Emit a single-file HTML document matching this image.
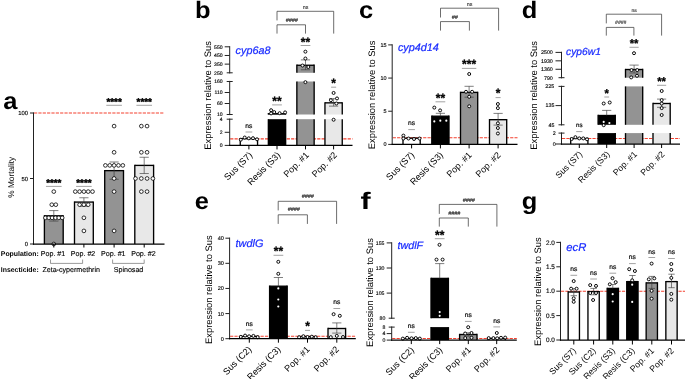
<!DOCTYPE html>
<html><head><meta charset="utf-8"><title>Figure</title>
<style>
html,body{margin:0;padding:0;background:#fff;}
body{width:685px;height:379px;overflow:hidden;}
svg{display:block;font-family:"Liberation Sans",sans-serif;text-rendering:geometricPrecision;will-change:transform;}
</style></head><body>
<svg width="685" height="379" viewBox="0 0 685 379">
<rect width="685" height="379" fill="#fff"/>
<text transform="translate(3.2 108.6) scale(1.07 1)" font-size="23.8" font-weight="bold">a</text>
<rect x="44.4" y="215.84" width="18.8" height="28.16" fill="#939393"/>
<line x1="44.4" y1="215.16" x2="44.4" y2="244" stroke="#000" stroke-width="1.35"/>
<line x1="63.2" y1="215.16" x2="63.2" y2="244" stroke="#000" stroke-width="1.35"/>
<line x1="44.4" y1="215.84" x2="63.2" y2="215.84" stroke="#000" stroke-width="1.35"/>
<line x1="53.8" y1="210.59" x2="53.8" y2="221.07" stroke="#3a3a3a" stroke-width="0.65"/>
<line x1="49.2" y1="210.59" x2="58.4" y2="210.59" stroke="#3a3a3a" stroke-width="0.65"/>
<line x1="49.2" y1="221.07" x2="58.4" y2="221.07" stroke="#3a3a3a" stroke-width="0.65"/>
<circle cx="53.8" cy="244" r="1.85" fill="#fff" stroke="#000" stroke-width="0.8"/>
<circle cx="45.4" cy="217.8" r="1.85" fill="#fff" stroke="#000" stroke-width="0.8"/>
<circle cx="48.8" cy="217.8" r="1.85" fill="#fff" stroke="#000" stroke-width="0.8"/>
<circle cx="52.1" cy="217.8" r="1.85" fill="#fff" stroke="#000" stroke-width="0.8"/>
<circle cx="55.5" cy="217.8" r="1.85" fill="#fff" stroke="#000" stroke-width="0.8"/>
<circle cx="58.8" cy="217.8" r="1.85" fill="#fff" stroke="#000" stroke-width="0.8"/>
<circle cx="62.2" cy="217.8" r="1.85" fill="#fff" stroke="#000" stroke-width="0.8"/>
<circle cx="51.8" cy="204.7" r="1.85" fill="#fff" stroke="#000" stroke-width="0.8"/>
<circle cx="55.8" cy="204.7" r="1.85" fill="#fff" stroke="#000" stroke-width="0.8"/>
<circle cx="53.8" cy="191.6" r="1.85" fill="#fff" stroke="#000" stroke-width="0.8"/>
<rect x="74.5" y="202.08" width="18.8" height="41.92" fill="#e8e8e8"/>
<line x1="74.5" y1="201.4" x2="74.5" y2="244" stroke="#000" stroke-width="1.35"/>
<line x1="93.3" y1="201.4" x2="93.3" y2="244" stroke="#000" stroke-width="1.35"/>
<line x1="74.5" y1="202.08" x2="93.3" y2="202.08" stroke="#000" stroke-width="1.35"/>
<line x1="83.9" y1="197.76" x2="83.9" y2="206.4" stroke="#3a3a3a" stroke-width="0.65"/>
<line x1="79.3" y1="197.76" x2="88.5" y2="197.76" stroke="#3a3a3a" stroke-width="0.65"/>
<line x1="79.3" y1="206.4" x2="88.5" y2="206.4" stroke="#3a3a3a" stroke-width="0.65"/>
<circle cx="83.9" cy="230.9" r="1.85" fill="#fff" stroke="#000" stroke-width="0.8"/>
<circle cx="83.9" cy="217.8" r="1.85" fill="#fff" stroke="#000" stroke-width="0.8"/>
<circle cx="79.6" cy="204.7" r="1.85" fill="#fff" stroke="#000" stroke-width="0.8"/>
<circle cx="83.9" cy="204.7" r="1.85" fill="#fff" stroke="#000" stroke-width="0.8"/>
<circle cx="88.2" cy="204.7" r="1.85" fill="#fff" stroke="#000" stroke-width="0.8"/>
<circle cx="75.3" cy="191.6" r="1.85" fill="#fff" stroke="#000" stroke-width="0.8"/>
<circle cx="79.6" cy="191.6" r="1.85" fill="#fff" stroke="#000" stroke-width="0.8"/>
<circle cx="83.9" cy="191.6" r="1.85" fill="#fff" stroke="#000" stroke-width="0.8"/>
<circle cx="88.2" cy="191.6" r="1.85" fill="#fff" stroke="#000" stroke-width="0.8"/>
<circle cx="92.5" cy="191.6" r="1.85" fill="#fff" stroke="#000" stroke-width="0.8"/>
<rect x="104.7" y="170.64" width="18.8" height="73.36" fill="#939393"/>
<line x1="104.7" y1="169.96" x2="104.7" y2="244" stroke="#000" stroke-width="1.35"/>
<line x1="123.5" y1="169.96" x2="123.5" y2="244" stroke="#000" stroke-width="1.35"/>
<line x1="104.7" y1="170.64" x2="123.5" y2="170.64" stroke="#000" stroke-width="1.35"/>
<line x1="114.1" y1="161.99" x2="114.1" y2="179.29" stroke="#3a3a3a" stroke-width="0.65"/>
<line x1="109.5" y1="161.99" x2="118.7" y2="161.99" stroke="#3a3a3a" stroke-width="0.65"/>
<line x1="109.5" y1="179.29" x2="118.7" y2="179.29" stroke="#3a3a3a" stroke-width="0.65"/>
<circle cx="114.1" cy="230.9" r="1.85" fill="#fff" stroke="#000" stroke-width="0.8"/>
<circle cx="114.1" cy="191.6" r="1.85" fill="#fff" stroke="#000" stroke-width="0.8"/>
<circle cx="114.1" cy="178.5" r="1.85" fill="#fff" stroke="#000" stroke-width="0.8"/>
<circle cx="105.4" cy="165.4" r="1.85" fill="#fff" stroke="#000" stroke-width="0.8"/>
<circle cx="109.75" cy="165.4" r="1.85" fill="#fff" stroke="#000" stroke-width="0.8"/>
<circle cx="114.1" cy="165.4" r="1.85" fill="#fff" stroke="#000" stroke-width="0.8"/>
<circle cx="118.45" cy="165.4" r="1.85" fill="#fff" stroke="#000" stroke-width="0.8"/>
<circle cx="122.8" cy="165.4" r="1.85" fill="#fff" stroke="#000" stroke-width="0.8"/>
<circle cx="114.1" cy="152.3" r="1.85" fill="#fff" stroke="#000" stroke-width="0.8"/>
<circle cx="114.1" cy="126.1" r="1.85" fill="#fff" stroke="#000" stroke-width="0.8"/>
<rect x="134.8" y="165.4" width="18.8" height="78.6" fill="#e8e8e8"/>
<line x1="134.8" y1="164.72" x2="134.8" y2="244" stroke="#000" stroke-width="1.35"/>
<line x1="153.6" y1="164.72" x2="153.6" y2="244" stroke="#000" stroke-width="1.35"/>
<line x1="134.8" y1="165.4" x2="153.6" y2="165.4" stroke="#000" stroke-width="1.35"/>
<line x1="144.2" y1="157.28" x2="144.2" y2="173.52" stroke="#3a3a3a" stroke-width="0.65"/>
<line x1="139.6" y1="157.28" x2="148.8" y2="157.28" stroke="#3a3a3a" stroke-width="0.65"/>
<line x1="139.6" y1="173.52" x2="148.8" y2="173.52" stroke="#3a3a3a" stroke-width="0.65"/>
<circle cx="141.35" cy="191.6" r="1.85" fill="#fff" stroke="#000" stroke-width="0.8"/>
<circle cx="147.05" cy="191.6" r="1.85" fill="#fff" stroke="#000" stroke-width="0.8"/>
<circle cx="135.5" cy="178.5" r="1.85" fill="#fff" stroke="#000" stroke-width="0.8"/>
<circle cx="141.3" cy="178.5" r="1.85" fill="#fff" stroke="#000" stroke-width="0.8"/>
<circle cx="147.1" cy="178.5" r="1.85" fill="#fff" stroke="#000" stroke-width="0.8"/>
<circle cx="152.9" cy="178.5" r="1.85" fill="#fff" stroke="#000" stroke-width="0.8"/>
<circle cx="141.35" cy="152.3" r="1.85" fill="#fff" stroke="#000" stroke-width="0.8"/>
<circle cx="147.05" cy="152.3" r="1.85" fill="#fff" stroke="#000" stroke-width="0.8"/>
<circle cx="141.35" cy="126.1" r="1.85" fill="#fff" stroke="#000" stroke-width="0.8"/>
<circle cx="147.05" cy="126.1" r="1.85" fill="#fff" stroke="#000" stroke-width="0.8"/>
<line x1="33.5" y1="112.38" x2="33.5" y2="244.62" stroke="#222" stroke-width="1"/>
<line x1="30" y1="113" x2="33.5" y2="113" stroke="#222" stroke-width="1"/>
<text x="28" y="115.09" font-size="5.9" text-anchor="end" stroke="#000" stroke-width="0.13">100</text>
<line x1="30" y1="178.5" x2="33.5" y2="178.5" stroke="#222" stroke-width="1"/>
<text x="28" y="180.59" font-size="5.9" text-anchor="end" stroke="#000" stroke-width="0.13">50</text>
<line x1="30" y1="244" x2="33.5" y2="244" stroke="#222" stroke-width="1"/>
<text x="28" y="246.09" font-size="5.9" text-anchor="end" stroke="#000" stroke-width="0.13">0</text>
<line x1="32.88" y1="244" x2="164.5" y2="244" stroke="#000" stroke-width="1.25"/>
<line x1="53.8" y1="244" x2="53.8" y2="247.5" stroke="#000" stroke-width="1"/>
<line x1="83.9" y1="244" x2="83.9" y2="247.5" stroke="#000" stroke-width="1"/>
<line x1="114.1" y1="244" x2="114.1" y2="247.5" stroke="#000" stroke-width="1"/>
<line x1="144.2" y1="244" x2="144.2" y2="247.5" stroke="#000" stroke-width="1"/>
<line x1="34" y1="113" x2="164.5" y2="113" stroke="#f4402f" stroke-width="1.1" stroke-dasharray="3.2 1.15"/>
<text x="14.3" y="177.3" font-size="8.3" text-anchor="middle" transform="rotate(-90 14.3 177.3)">% Mortality</text>
<text x="53.8" y="185.97" font-size="9.8" text-anchor="middle" font-weight="bold" stroke="#000" stroke-width="0.42">****</text>
<line x1="45.98" y1="186.4" x2="61.62" y2="186.4" stroke="#8a8a8a" stroke-width="0.8"/>
<text x="83.9" y="185.97" font-size="9.8" text-anchor="middle" font-weight="bold" stroke="#000" stroke-width="0.42">****</text>
<line x1="76.08" y1="186.4" x2="91.72" y2="186.4" stroke="#8a8a8a" stroke-width="0.8"/>
<text x="114.1" y="104.97" font-size="9.8" text-anchor="middle" font-weight="bold" stroke="#000" stroke-width="0.42">****</text>
<line x1="106.28" y1="105.3" x2="121.92" y2="105.3" stroke="#8a8a8a" stroke-width="0.8"/>
<text x="144.2" y="104.97" font-size="9.8" text-anchor="middle" font-weight="bold" stroke="#000" stroke-width="0.42">****</text>
<line x1="136.38" y1="105.3" x2="152.02" y2="105.3" stroke="#8a8a8a" stroke-width="0.8"/>
<text x="0.8" y="255.6" font-size="6.9" font-weight="bold">Population:</text>
<text x="0.8" y="271.8" font-size="6.9" font-weight="bold">Insecticide:</text>
<text x="53" y="255.6" font-size="7.1" text-anchor="middle" stroke="#000" stroke-width="0.13">Pop. #1</text>
<text x="83.1" y="255.6" font-size="7.1" text-anchor="middle" stroke="#000" stroke-width="0.13">Pop. #2</text>
<text x="113.3" y="255.6" font-size="7.1" text-anchor="middle" stroke="#000" stroke-width="0.13">Pop. #1</text>
<text x="143.4" y="255.6" font-size="7.1" text-anchor="middle" stroke="#000" stroke-width="0.13">Pop. #2</text>
<text x="71.2" y="271.8" font-size="7.1" text-anchor="middle" stroke="#000" stroke-width="0.13">Zeta-cypermethrin</text>
<text x="128.5" y="271.8" font-size="7.1" text-anchor="middle" stroke="#000" stroke-width="0.13">Spinosad</text>
<path d="M50.5 259.5V263.4H82.6V259.5" stroke="#555" stroke-width="0.6" fill="none"/>
<path d="M112.6 259.5V263.4H144.2V259.5" stroke="#555" stroke-width="0.6" fill="none"/>
<text transform="translate(195 17.7) scale(1.07 1)" font-size="23.8" font-weight="bold">b</text>
<line x1="230.2" y1="138.85" x2="352.5" y2="138.85" stroke="#f4402f" stroke-width="1.1" stroke-dasharray="3.2 1.15"/>
<rect x="240.25" y="138.72" width="17.3" height="6.68" fill="#fff"/>
<line x1="240.25" y1="138.04" x2="240.25" y2="145.4" stroke="#000" stroke-width="1.35"/>
<line x1="257.55" y1="138.04" x2="257.55" y2="145.4" stroke="#000" stroke-width="1.35"/>
<line x1="240.25" y1="138.72" x2="257.55" y2="138.72" stroke="#000" stroke-width="1.35"/>
<rect x="268.35" y="119.2" width="17.3" height="26.2" fill="#000"/>
<line x1="268.35" y1="119.2" x2="268.35" y2="145.4" stroke="#000" stroke-width="1.35"/>
<line x1="285.65" y1="119.2" x2="285.65" y2="145.4" stroke="#000" stroke-width="1.35"/>
<rect x="268.35" y="113.73" width="17.3" height="0.77" fill="#000"/>
<line x1="268.35" y1="113.06" x2="268.35" y2="114.5" stroke="#000" stroke-width="1.35"/>
<line x1="285.65" y1="113.06" x2="285.65" y2="114.5" stroke="#000" stroke-width="1.35"/>
<line x1="268.35" y1="113.73" x2="285.65" y2="113.73" stroke="#000" stroke-width="1.35"/>
<rect x="296.85" y="119.2" width="17.3" height="26.2" fill="#939393"/>
<line x1="296.85" y1="119.2" x2="296.85" y2="145.4" stroke="#000" stroke-width="1.35"/>
<line x1="314.15" y1="119.2" x2="314.15" y2="145.4" stroke="#000" stroke-width="1.35"/>
<rect x="296.85" y="81.5" width="17.3" height="33" fill="#939393"/>
<line x1="296.85" y1="81.5" x2="296.85" y2="114.5" stroke="#000" stroke-width="1.35"/>
<line x1="314.15" y1="81.5" x2="314.15" y2="114.5" stroke="#000" stroke-width="1.35"/>
<rect x="296.85" y="65.26" width="17.3" height="7.54" fill="#939393"/>
<line x1="296.85" y1="64.58" x2="296.85" y2="72.8" stroke="#000" stroke-width="1.35"/>
<line x1="314.15" y1="64.58" x2="314.15" y2="72.8" stroke="#000" stroke-width="1.35"/>
<line x1="296.85" y1="65.26" x2="314.15" y2="65.26" stroke="#000" stroke-width="1.35"/>
<rect x="324.95" y="119.2" width="17.3" height="26.2" fill="#e8e8e8"/>
<line x1="324.95" y1="119.2" x2="324.95" y2="145.4" stroke="#000" stroke-width="1.35"/>
<line x1="342.25" y1="119.2" x2="342.25" y2="145.4" stroke="#000" stroke-width="1.35"/>
<rect x="324.95" y="102.84" width="17.3" height="11.66" fill="#e8e8e8"/>
<line x1="324.95" y1="102.17" x2="324.95" y2="114.5" stroke="#000" stroke-width="1.35"/>
<line x1="342.25" y1="102.17" x2="342.25" y2="114.5" stroke="#000" stroke-width="1.35"/>
<line x1="324.95" y1="102.84" x2="342.25" y2="102.84" stroke="#000" stroke-width="1.35"/>
<circle cx="240.8" cy="139.7" r="1.5" fill="#fff" stroke="#000" stroke-width="0.95"/>
<circle cx="244.7" cy="137.54" r="1.5" fill="#fff" stroke="#000" stroke-width="0.95"/>
<circle cx="248.8" cy="138.33" r="1.5" fill="#fff" stroke="#000" stroke-width="0.95"/>
<circle cx="253" cy="138.19" r="1.5" fill="#fff" stroke="#000" stroke-width="0.95"/>
<circle cx="257" cy="139.31" r="1.5" fill="#fff" stroke="#000" stroke-width="0.95"/>
<circle cx="271.1" cy="110.2" r="1.5" fill="#fff" stroke="#000" stroke-width="0.95"/>
<circle cx="271.1" cy="113.4" r="1.5" fill="#fff" stroke="#000" stroke-width="0.95"/>
<circle cx="274.2" cy="112.1" r="1.5" fill="#fff" stroke="#000" stroke-width="0.95"/>
<circle cx="279.6" cy="113.2" r="1.5" fill="#fff" stroke="#000" stroke-width="0.95"/>
<circle cx="285.1" cy="112.4" r="1.5" fill="#fff" stroke="#000" stroke-width="0.95"/>
<line x1="305.5" y1="59.89" x2="305.5" y2="69.77" stroke="#3a3a3a" stroke-width="0.65"/>
<line x1="300.9" y1="59.89" x2="310.1" y2="59.89" stroke="#3a3a3a" stroke-width="0.65"/>
<line x1="300.9" y1="69.77" x2="310.1" y2="69.77" stroke="#3a3a3a" stroke-width="0.65"/>
<circle cx="305.4" cy="51.65" r="1.5" fill="#fff" stroke="#000" stroke-width="0.95"/>
<circle cx="305.4" cy="58.5" r="1.5" fill="#fff" stroke="#000" stroke-width="0.95"/>
<circle cx="302.5" cy="65.52" r="1.5" fill="#fff" stroke="#000" stroke-width="0.95"/>
<circle cx="308.3" cy="66.99" r="1.5" fill="#fff" stroke="#000" stroke-width="0.95"/>
<circle cx="305.4" cy="82.16" r="1.5" fill="#fff" stroke="#000" stroke-width="0.95"/>
<line x1="333.6" y1="98.66" x2="333.6" y2="106.14" stroke="#3a3a3a" stroke-width="0.65"/>
<line x1="329" y1="98.66" x2="338.2" y2="98.66" stroke="#3a3a3a" stroke-width="0.65"/>
<line x1="329" y1="106.14" x2="338.2" y2="106.14" stroke="#3a3a3a" stroke-width="0.65"/>
<circle cx="333.6" cy="92.94" r="1.5" fill="#fff" stroke="#000" stroke-width="0.95"/>
<circle cx="337" cy="98.44" r="1.5" fill="#fff" stroke="#000" stroke-width="0.95"/>
<circle cx="330.9" cy="100.2" r="1.5" fill="#fff" stroke="#000" stroke-width="0.95"/>
<circle cx="336.4" cy="103.5" r="1.5" fill="#fff" stroke="#000" stroke-width="0.95"/>
<circle cx="333.6" cy="119.72" r="1.5" fill="#fff" stroke="#000" stroke-width="0.95"/>
<line x1="229.7" y1="118.58" x2="229.7" y2="146.03" stroke="#222" stroke-width="1"/>
<line x1="224.7" y1="145.4" x2="229.7" y2="145.4" stroke="#222" stroke-width="1"/>
<text x="222.7" y="147.21" font-size="5.1" text-anchor="end" stroke="#000" stroke-width="0.13">0</text>
<line x1="224.7" y1="132.3" x2="229.7" y2="132.3" stroke="#222" stroke-width="1"/>
<text x="222.7" y="134.11" font-size="5.1" text-anchor="end" stroke="#000" stroke-width="0.13">2</text>
<text x="222.7" y="121.01" font-size="5.1" text-anchor="end" stroke="#000" stroke-width="0.13">4</text>
<line x1="226.7" y1="119.2" x2="232.7" y2="119.2" stroke="#222" stroke-width="1"/>
<line x1="229.7" y1="80.88" x2="229.7" y2="115.12" stroke="#222" stroke-width="1"/>
<text x="222.7" y="116.31" font-size="5.1" text-anchor="end" stroke="#000" stroke-width="0.13">10</text>
<line x1="224.7" y1="103.5" x2="229.7" y2="103.5" stroke="#222" stroke-width="1"/>
<text x="222.7" y="105.31" font-size="5.1" text-anchor="end" stroke="#000" stroke-width="0.13">60</text>
<line x1="224.7" y1="92.5" x2="229.7" y2="92.5" stroke="#222" stroke-width="1"/>
<text x="222.7" y="94.31" font-size="5.1" text-anchor="end" stroke="#000" stroke-width="0.13">110</text>
<text x="222.7" y="83.31" font-size="5.1" text-anchor="end" stroke="#000" stroke-width="0.13">160</text>
<line x1="226.7" y1="81.5" x2="232.7" y2="81.5" stroke="#222" stroke-width="1"/>
<line x1="226.7" y1="114.5" x2="232.7" y2="114.5" stroke="#222" stroke-width="1"/>
<line x1="229.7" y1="46.17" x2="229.7" y2="73.42" stroke="#222" stroke-width="1"/>
<text x="222.55" y="74.61" font-size="5.1" text-anchor="end" stroke="#000" stroke-width="0.13">250</text>
<line x1="224.7" y1="64.13" x2="229.7" y2="64.13" stroke="#222" stroke-width="1"/>
<text x="222.55" y="65.94" font-size="5.1" text-anchor="end" stroke="#000" stroke-width="0.13">350</text>
<line x1="224.7" y1="55.47" x2="229.7" y2="55.47" stroke="#222" stroke-width="1"/>
<text x="222.55" y="57.28" font-size="5.1" text-anchor="end" stroke="#000" stroke-width="0.13">450</text>
<line x1="224.7" y1="46.8" x2="229.7" y2="46.8" stroke="#222" stroke-width="1"/>
<text x="222.55" y="48.61" font-size="5.1" text-anchor="end" stroke="#000" stroke-width="0.13">550</text>
<line x1="226.7" y1="72.8" x2="232.7" y2="72.8" stroke="#222" stroke-width="1"/>
<line x1="229.07" y1="145.4" x2="352.5" y2="145.4" stroke="#000" stroke-width="1.25"/>
<line x1="248.9" y1="145.4" x2="248.9" y2="149.4" stroke="#000" stroke-width="1"/>
<line x1="277" y1="145.4" x2="277" y2="149.4" stroke="#000" stroke-width="1"/>
<line x1="305.5" y1="145.4" x2="305.5" y2="149.4" stroke="#000" stroke-width="1"/>
<line x1="333.6" y1="145.4" x2="333.6" y2="149.4" stroke="#000" stroke-width="1"/>
<text x="248.9" y="127.61" font-size="6.7" text-anchor="middle" stroke="#000" stroke-width="0.18">ns</text>
<line x1="245.55" y1="132" x2="252.25" y2="132" stroke="#8a8a8a" stroke-width="0.8"/>
<text x="277" y="104.79" font-size="12" text-anchor="middle" font-weight="bold" stroke="#000" stroke-width="0.3">**</text>
<line x1="272.13" y1="104.9" x2="281.87" y2="104.9" stroke="#8a8a8a" stroke-width="0.8"/>
<text x="305.5" y="45.89" font-size="12" text-anchor="middle" font-weight="bold" stroke="#000" stroke-width="0.3">**</text>
<line x1="300.63" y1="45.5" x2="310.37" y2="45.5" stroke="#8a8a8a" stroke-width="0.8"/>
<text x="333.6" y="87.09" font-size="12" text-anchor="middle" font-weight="bold" stroke="#000" stroke-width="0.3">*</text>
<line x1="331.07" y1="87.2" x2="336.13" y2="87.2" stroke="#8a8a8a" stroke-width="0.8"/>
<text x="252.9" y="155.7" font-size="9.1" text-anchor="end" transform="rotate(-45 252.9 155.7)">Sus (S7)</text>
<text x="281" y="155.7" font-size="9.1" text-anchor="end" transform="rotate(-45 281 155.7)">Resis (S3)</text>
<text x="309.5" y="155.7" font-size="9.1" text-anchor="end" transform="rotate(-45 309.5 155.7)">Pop. #1</text>
<text x="337.6" y="155.7" font-size="9.1" text-anchor="end" transform="rotate(-45 337.6 155.7)">Pop. #2</text>
<text x="235.6" y="53.6" font-size="10.8" fill="#1a2cff" font-style="italic" stroke="#1a2cff" stroke-width="0.22">cyp6a8</text>
<text x="211" y="95.4" font-size="9.42" text-anchor="middle" transform="rotate(-90 211 95.4)">Expression relative to Sus</text>
<path d="M277 20.4V11.3H333.7V33.6" stroke="#3c3c3c" stroke-width="0.75" fill="none"/>
<text x="305.6" y="9.06" font-size="5.4" text-anchor="middle" fill="#222" stroke="#222" stroke-width="0.08">ns</text>
<path d="M277 33.6V24.8H305.5V33.6" stroke="#3c3c3c" stroke-width="0.75" fill="none"/>
<text x="291.65" y="22.26" font-size="5.4" text-anchor="middle" fill="#222" font-style="italic" stroke="#222" stroke-width="0.15">####</text>
<text transform="translate(358.9 17.7) scale(1.07 1)" font-size="23.8" font-weight="bold">c</text>
<line x1="392.7" y1="137.77" x2="517.5" y2="137.77" stroke="#f4402f" stroke-width="1.1" stroke-dasharray="3.2 1.15"/>
<rect x="403" y="138.2" width="17.2" height="6.2" fill="#fff"/>
<line x1="403" y1="137.52" x2="403" y2="144.4" stroke="#000" stroke-width="1.35"/>
<line x1="420.2" y1="137.52" x2="420.2" y2="144.4" stroke="#000" stroke-width="1.35"/>
<line x1="403" y1="138.2" x2="420.2" y2="138.2" stroke="#000" stroke-width="1.35"/>
<rect x="431.8" y="116.2" width="17.2" height="28.2" fill="#000"/>
<line x1="431.8" y1="115.53" x2="431.8" y2="144.4" stroke="#000" stroke-width="1.35"/>
<line x1="449" y1="115.53" x2="449" y2="144.4" stroke="#000" stroke-width="1.35"/>
<line x1="431.8" y1="116.2" x2="449" y2="116.2" stroke="#000" stroke-width="1.35"/>
<rect x="460.5" y="92.4" width="17.2" height="52" fill="#939393"/>
<line x1="460.5" y1="91.73" x2="460.5" y2="144.4" stroke="#000" stroke-width="1.35"/>
<line x1="477.7" y1="91.73" x2="477.7" y2="144.4" stroke="#000" stroke-width="1.35"/>
<line x1="460.5" y1="92.4" x2="477.7" y2="92.4" stroke="#000" stroke-width="1.35"/>
<rect x="489.5" y="119.7" width="17.2" height="24.7" fill="#e8e8e8"/>
<line x1="489.5" y1="119.03" x2="489.5" y2="144.4" stroke="#000" stroke-width="1.35"/>
<line x1="506.7" y1="119.03" x2="506.7" y2="144.4" stroke="#000" stroke-width="1.35"/>
<line x1="489.5" y1="119.7" x2="506.7" y2="119.7" stroke="#000" stroke-width="1.35"/>
<circle cx="403.4" cy="135.6" r="1.5" fill="#fff" stroke="#000" stroke-width="0.95"/>
<circle cx="403.4" cy="138.5" r="1.5" fill="#fff" stroke="#000" stroke-width="0.95"/>
<circle cx="408.5" cy="138.5" r="1.5" fill="#fff" stroke="#000" stroke-width="0.95"/>
<circle cx="414" cy="139" r="1.5" fill="#fff" stroke="#000" stroke-width="0.95"/>
<circle cx="419.5" cy="138.5" r="1.5" fill="#fff" stroke="#000" stroke-width="0.95"/>
<line x1="440.4" y1="113.3" x2="440.4" y2="116.2" stroke="#3a3a3a" stroke-width="0.65"/>
<line x1="435.8" y1="113.3" x2="445" y2="113.3" stroke="#3a3a3a" stroke-width="0.65"/>
<circle cx="434.3" cy="107.6" r="1.5" fill="#fff" stroke="#000" stroke-width="0.95"/>
<circle cx="440.1" cy="110.4" r="1.5" fill="#fff" stroke="#000" stroke-width="0.95"/>
<circle cx="434.3" cy="121.4" r="1.08" fill="#fff"/>
<circle cx="440.3" cy="120.7" r="1.08" fill="#fff"/>
<circle cx="446.3" cy="120.7" r="1.08" fill="#fff"/>
<line x1="469.1" y1="86.3" x2="469.1" y2="97.2" stroke="#3a3a3a" stroke-width="0.65"/>
<line x1="464.5" y1="86.3" x2="473.7" y2="86.3" stroke="#3a3a3a" stroke-width="0.65"/>
<line x1="464.5" y1="97.2" x2="473.7" y2="97.2" stroke="#3a3a3a" stroke-width="0.65"/>
<circle cx="469.2" cy="74" r="1.5" fill="#fff" stroke="#000" stroke-width="0.95"/>
<circle cx="466" cy="91.8" r="1.5" fill="#fff" stroke="#000" stroke-width="0.95"/>
<circle cx="472.1" cy="91.8" r="1.5" fill="#fff" stroke="#000" stroke-width="0.95"/>
<circle cx="469.2" cy="96.8" r="1.5" fill="#fff" stroke="#000" stroke-width="0.95"/>
<circle cx="469.2" cy="106.3" r="1.5" fill="#fff" stroke="#000" stroke-width="0.95"/>
<line x1="498.1" y1="113.4" x2="498.1" y2="125.1" stroke="#3a3a3a" stroke-width="0.65"/>
<line x1="493.5" y1="113.4" x2="502.7" y2="113.4" stroke="#3a3a3a" stroke-width="0.65"/>
<line x1="493.5" y1="125.1" x2="502.7" y2="125.1" stroke="#3a3a3a" stroke-width="0.65"/>
<circle cx="497.9" cy="104" r="1.5" fill="#fff" stroke="#000" stroke-width="0.95"/>
<circle cx="497.9" cy="108.1" r="1.5" fill="#fff" stroke="#000" stroke-width="0.95"/>
<circle cx="497.9" cy="123.3" r="1.5" fill="#fff" stroke="#000" stroke-width="0.95"/>
<circle cx="497.9" cy="128" r="1.5" fill="#fff" stroke="#000" stroke-width="0.95"/>
<circle cx="497.9" cy="133.5" r="1.5" fill="#fff" stroke="#000" stroke-width="0.95"/>
<line x1="392.2" y1="44.27" x2="392.2" y2="145.03" stroke="#222" stroke-width="1"/>
<line x1="388.2" y1="144.4" x2="392.2" y2="144.4" stroke="#222" stroke-width="1"/>
<text x="386.5" y="146.35" font-size="5.5" text-anchor="end" stroke="#000" stroke-width="0.13">0</text>
<line x1="388.2" y1="111.23" x2="392.2" y2="111.23" stroke="#222" stroke-width="1"/>
<text x="386.5" y="113.19" font-size="5.5" text-anchor="end" stroke="#000" stroke-width="0.13">5</text>
<line x1="388.2" y1="78.07" x2="392.2" y2="78.07" stroke="#222" stroke-width="1"/>
<text x="386.5" y="80.02" font-size="5.5" text-anchor="end" stroke="#000" stroke-width="0.13">10</text>
<line x1="388.2" y1="44.9" x2="392.2" y2="44.9" stroke="#222" stroke-width="1"/>
<text x="386.5" y="46.85" font-size="5.5" text-anchor="end" stroke="#000" stroke-width="0.13">15</text>
<line x1="391.57" y1="144.4" x2="517.5" y2="144.4" stroke="#000" stroke-width="1.25"/>
<line x1="411.6" y1="144.4" x2="411.6" y2="148.4" stroke="#000" stroke-width="1"/>
<line x1="440.4" y1="144.4" x2="440.4" y2="148.4" stroke="#000" stroke-width="1"/>
<line x1="469.1" y1="144.4" x2="469.1" y2="148.4" stroke="#000" stroke-width="1"/>
<line x1="498.1" y1="144.4" x2="498.1" y2="148.4" stroke="#000" stroke-width="1"/>
<text x="411.6" y="124.91" font-size="6.7" text-anchor="middle" stroke="#000" stroke-width="0.18">ns</text>
<line x1="408.25" y1="129.6" x2="414.95" y2="129.6" stroke="#8a8a8a" stroke-width="0.8"/>
<text x="440.4" y="101.69" font-size="12" text-anchor="middle" font-weight="bold" stroke="#000" stroke-width="0.3">**</text>
<line x1="435.53" y1="101.8" x2="445.27" y2="101.8" stroke="#8a8a8a" stroke-width="0.8"/>
<text x="469.1" y="67.69" font-size="12" text-anchor="middle" font-weight="bold" stroke="#000" stroke-width="0.3">***</text>
<line x1="461.9" y1="68.4" x2="476.3" y2="68.4" stroke="#8a8a8a" stroke-width="0.8"/>
<text x="498.1" y="97.19" font-size="12" text-anchor="middle" font-weight="bold" stroke="#000" stroke-width="0.3">*</text>
<line x1="495.57" y1="97.6" x2="500.63" y2="97.6" stroke="#8a8a8a" stroke-width="0.8"/>
<text x="414.9" y="155.6" font-size="9.1" text-anchor="end" transform="rotate(-45 414.9 155.6)">Sus (S7)</text>
<text x="443.7" y="155.6" font-size="9.1" text-anchor="end" transform="rotate(-45 443.7 155.6)">Resis (S3)</text>
<text x="472.4" y="155.6" font-size="9.1" text-anchor="end" transform="rotate(-45 472.4 155.6)">Pop. #1</text>
<text x="501.4" y="155.6" font-size="9.1" text-anchor="end" transform="rotate(-45 501.4 155.6)">Pop. #2</text>
<text x="397.9" y="50.6" font-size="10.85" fill="#1a2cff" font-style="italic" stroke="#1a2cff" stroke-width="0.22">cyp4d14</text>
<text x="375.2" y="94.9" font-size="9.42" text-anchor="middle" transform="rotate(-90 375.2 94.9)">Expression relative to Sus</text>
<path d="M440.5 17.5V8.2H498.6V30.6" stroke="#3c3c3c" stroke-width="0.75" fill="none"/>
<text x="469.7" y="5.76" font-size="5.4" text-anchor="middle" fill="#222" stroke="#222" stroke-width="0.08">ns</text>
<path d="M440.5 30.6V21.6H469.4V30.6" stroke="#3c3c3c" stroke-width="0.75" fill="none"/>
<text x="454.75" y="18.56" font-size="5.4" text-anchor="middle" fill="#222" font-style="italic" stroke="#222" stroke-width="0.15">##</text>
<text transform="translate(521.7 17.7) scale(1.07 1)" font-size="23.8" font-weight="bold">d</text>
<line x1="562" y1="138.55" x2="680" y2="138.55" stroke="#f4402f" stroke-width="1.1" stroke-dasharray="3.2 1.15"/>
<rect x="570.7" y="138.5" width="17.2" height="5.5" fill="#fff"/>
<line x1="570.7" y1="137.82" x2="570.7" y2="144" stroke="#000" stroke-width="1.35"/>
<line x1="587.9" y1="137.82" x2="587.9" y2="144" stroke="#000" stroke-width="1.35"/>
<line x1="570.7" y1="138.5" x2="587.9" y2="138.5" stroke="#000" stroke-width="1.35"/>
<rect x="598.1" y="133.1" width="17.2" height="10.9" fill="#000"/>
<line x1="598.1" y1="133.1" x2="598.1" y2="144" stroke="#000" stroke-width="1.35"/>
<line x1="615.3" y1="133.1" x2="615.3" y2="144" stroke="#000" stroke-width="1.35"/>
<rect x="598.1" y="115.5" width="17.2" height="9.3" fill="#000"/>
<line x1="598.1" y1="114.83" x2="598.1" y2="124.8" stroke="#000" stroke-width="1.35"/>
<line x1="615.3" y1="114.83" x2="615.3" y2="124.8" stroke="#000" stroke-width="1.35"/>
<line x1="598.1" y1="115.5" x2="615.3" y2="115.5" stroke="#000" stroke-width="1.35"/>
<rect x="625.5" y="133.1" width="17.2" height="10.9" fill="#939393"/>
<line x1="625.5" y1="133.1" x2="625.5" y2="144" stroke="#000" stroke-width="1.35"/>
<line x1="642.7" y1="133.1" x2="642.7" y2="144" stroke="#000" stroke-width="1.35"/>
<rect x="625.5" y="86.4" width="17.2" height="38.4" fill="#939393"/>
<line x1="625.5" y1="86.4" x2="625.5" y2="124.8" stroke="#000" stroke-width="1.35"/>
<line x1="642.7" y1="86.4" x2="642.7" y2="124.8" stroke="#000" stroke-width="1.35"/>
<rect x="625.5" y="69.5" width="17.2" height="8.2" fill="#939393"/>
<line x1="625.5" y1="68.83" x2="625.5" y2="77.7" stroke="#000" stroke-width="1.35"/>
<line x1="642.7" y1="68.83" x2="642.7" y2="77.7" stroke="#000" stroke-width="1.35"/>
<line x1="625.5" y1="69.5" x2="642.7" y2="69.5" stroke="#000" stroke-width="1.35"/>
<rect x="653" y="133.1" width="17.2" height="10.9" fill="#e8e8e8"/>
<line x1="653" y1="133.1" x2="653" y2="144" stroke="#000" stroke-width="1.35"/>
<line x1="670.2" y1="133.1" x2="670.2" y2="144" stroke="#000" stroke-width="1.35"/>
<rect x="653" y="103.5" width="17.2" height="21.3" fill="#e8e8e8"/>
<line x1="653" y1="102.83" x2="653" y2="124.8" stroke="#000" stroke-width="1.35"/>
<line x1="670.2" y1="102.83" x2="670.2" y2="124.8" stroke="#000" stroke-width="1.35"/>
<line x1="653" y1="103.5" x2="670.2" y2="103.5" stroke="#000" stroke-width="1.35"/>
<circle cx="571.7" cy="139" r="1.5" fill="#fff" stroke="#000" stroke-width="0.95"/>
<circle cx="575.4" cy="137.2" r="1.5" fill="#fff" stroke="#000" stroke-width="0.95"/>
<circle cx="579.3" cy="138.4" r="1.5" fill="#fff" stroke="#000" stroke-width="0.95"/>
<circle cx="583.3" cy="138.4" r="1.5" fill="#fff" stroke="#000" stroke-width="0.95"/>
<circle cx="587" cy="139.3" r="1.5" fill="#fff" stroke="#000" stroke-width="0.95"/>
<line x1="606.7" y1="110.4" x2="606.7" y2="115.5" stroke="#3a3a3a" stroke-width="0.65"/>
<line x1="602.1" y1="110.4" x2="611.3" y2="110.4" stroke="#3a3a3a" stroke-width="0.65"/>
<circle cx="603.7" cy="103.5" r="1.5" fill="#fff" stroke="#000" stroke-width="0.95"/>
<circle cx="609.7" cy="102.5" r="1.5" fill="#fff" stroke="#000" stroke-width="0.95"/>
<circle cx="603.7" cy="121.9" r="1.08" fill="#fff"/>
<circle cx="609.4" cy="123.1" r="1.08" fill="#fff"/>
<circle cx="603.7" cy="125.2" r="1.5" fill="#fff" stroke="#000" stroke-width="0.95"/>
<line x1="634.1" y1="65.1" x2="634.1" y2="73" stroke="#3a3a3a" stroke-width="0.65"/>
<line x1="629.5" y1="65.1" x2="638.7" y2="65.1" stroke="#3a3a3a" stroke-width="0.65"/>
<line x1="629.5" y1="73" x2="638.7" y2="73" stroke="#3a3a3a" stroke-width="0.65"/>
<circle cx="634" cy="53.2" r="1.5" fill="#fff" stroke="#000" stroke-width="0.95"/>
<circle cx="631.5" cy="70.1" r="1.5" fill="#fff" stroke="#000" stroke-width="0.95"/>
<circle cx="637.2" cy="70.1" r="1.5" fill="#fff" stroke="#000" stroke-width="0.95"/>
<circle cx="631.2" cy="77.4" r="1.5" fill="#fff" stroke="#000" stroke-width="0.95"/>
<circle cx="637" cy="75.8" r="1.5" fill="#fff" stroke="#000" stroke-width="0.95"/>
<line x1="661.6" y1="99.1" x2="661.6" y2="107.3" stroke="#3a3a3a" stroke-width="0.65"/>
<line x1="657" y1="99.1" x2="666.2" y2="99.1" stroke="#3a3a3a" stroke-width="0.65"/>
<line x1="657" y1="107.3" x2="666.2" y2="107.3" stroke="#3a3a3a" stroke-width="0.65"/>
<circle cx="661.7" cy="91" r="1.5" fill="#fff" stroke="#000" stroke-width="0.95"/>
<circle cx="661.7" cy="100.1" r="1.5" fill="#fff" stroke="#000" stroke-width="0.95"/>
<circle cx="661.7" cy="103.6" r="1.5" fill="#fff" stroke="#000" stroke-width="0.95"/>
<circle cx="661.7" cy="108.1" r="1.5" fill="#fff" stroke="#000" stroke-width="0.95"/>
<circle cx="661.7" cy="115" r="1.5" fill="#fff" stroke="#000" stroke-width="0.95"/>
<line x1="561.5" y1="132.47" x2="561.5" y2="144.62" stroke="#222" stroke-width="1"/>
<line x1="555.5" y1="144" x2="561.5" y2="144" stroke="#222" stroke-width="1"/>
<text x="555.6" y="145.88" font-size="5.3" text-anchor="end" stroke="#000" stroke-width="0.13">0</text>
<text x="555.6" y="134.98" font-size="5.3" text-anchor="end" stroke="#000" stroke-width="0.13">2</text>
<line x1="558.5" y1="133.1" x2="564.5" y2="133.1" stroke="#222" stroke-width="1"/>
<line x1="561.5" y1="85.78" x2="561.5" y2="125.42" stroke="#222" stroke-width="1"/>
<text x="554.4" y="126.68" font-size="5.3" text-anchor="end" stroke="#000" stroke-width="0.13">45</text>
<line x1="555.5" y1="105.6" x2="561.5" y2="105.6" stroke="#222" stroke-width="1"/>
<text x="554.4" y="107.48" font-size="5.3" text-anchor="end" stroke="#000" stroke-width="0.13">135</text>
<text x="554.2" y="88.28" font-size="5.3" text-anchor="end" stroke="#000" stroke-width="0.13">225</text>
<line x1="558.5" y1="86.4" x2="564.5" y2="86.4" stroke="#222" stroke-width="1"/>
<line x1="558.5" y1="124.8" x2="564.5" y2="124.8" stroke="#222" stroke-width="1"/>
<line x1="561.5" y1="51.77" x2="561.5" y2="78.33" stroke="#222" stroke-width="1"/>
<text x="552.8" y="79.58" font-size="5.3" text-anchor="end" stroke="#000" stroke-width="0.13">790</text>
<line x1="555.5" y1="69.27" x2="561.5" y2="69.27" stroke="#222" stroke-width="1"/>
<text x="552.8" y="71.15" font-size="5.3" text-anchor="end" stroke="#000" stroke-width="0.13">1360</text>
<line x1="555.5" y1="60.83" x2="561.5" y2="60.83" stroke="#222" stroke-width="1"/>
<text x="552.8" y="62.71" font-size="5.3" text-anchor="end" stroke="#000" stroke-width="0.13">1930</text>
<line x1="555.5" y1="52.4" x2="561.5" y2="52.4" stroke="#222" stroke-width="1"/>
<text x="552.8" y="54.28" font-size="5.3" text-anchor="end" stroke="#000" stroke-width="0.13">2500</text>
<line x1="558.5" y1="77.7" x2="564.5" y2="77.7" stroke="#222" stroke-width="1"/>
<line x1="560.88" y1="144" x2="680" y2="144" stroke="#000" stroke-width="1.25"/>
<line x1="579.3" y1="144" x2="579.3" y2="148" stroke="#000" stroke-width="1"/>
<line x1="606.7" y1="144" x2="606.7" y2="148" stroke="#000" stroke-width="1"/>
<line x1="634.1" y1="144" x2="634.1" y2="148" stroke="#000" stroke-width="1"/>
<line x1="661.6" y1="144" x2="661.6" y2="148" stroke="#000" stroke-width="1"/>
<text x="579.3" y="127.47" font-size="6.2" text-anchor="middle" stroke="#000" stroke-width="0.18">ns</text>
<line x1="576.2" y1="131.6" x2="582.4" y2="131.6" stroke="#8a8a8a" stroke-width="0.8"/>
<text x="606.7" y="96.73" font-size="11.3" text-anchor="middle" font-weight="bold" stroke="#000" stroke-width="0.3">*</text>
<line x1="604.3" y1="97" x2="609.1" y2="97" stroke="#8a8a8a" stroke-width="0.8"/>
<text x="634.1" y="47.33" font-size="11.3" text-anchor="middle" font-weight="bold" stroke="#000" stroke-width="0.3">**</text>
<line x1="629.5" y1="47.3" x2="638.7" y2="47.3" stroke="#8a8a8a" stroke-width="0.8"/>
<text x="661.6" y="85.03" font-size="11.3" text-anchor="middle" font-weight="bold" stroke="#000" stroke-width="0.3">**</text>
<line x1="657" y1="85.3" x2="666.2" y2="85.3" stroke="#8a8a8a" stroke-width="0.8"/>
<text x="582.8" y="154.8" font-size="8.7" text-anchor="end" transform="rotate(-45 582.8 154.8)">Sus (S7)</text>
<text x="610.2" y="154.8" font-size="8.7" text-anchor="end" transform="rotate(-45 610.2 154.8)">Resis (S3)</text>
<text x="637.6" y="154.8" font-size="8.7" text-anchor="end" transform="rotate(-45 637.6 154.8)">Pop. #1</text>
<text x="665.1" y="154.8" font-size="8.7" text-anchor="end" transform="rotate(-45 665.1 154.8)">Pop. #2</text>
<text x="566.1" y="54.6" font-size="10.25" fill="#1a2cff" font-style="italic" stroke="#1a2cff" stroke-width="0.22">cyp6w1</text>
<text x="536.9" y="95.4" font-size="9.42" text-anchor="middle" transform="rotate(-90 536.9 95.4)">Expression relative to Sus</text>
<path d="M606.3 23.4V14.2H661.6V35.6" stroke="#3c3c3c" stroke-width="0.75" fill="none"/>
<text x="634.1" y="11.88" font-size="5.1" text-anchor="middle" fill="#222" stroke="#222" stroke-width="0.08">ns</text>
<path d="M606.3 35.6V27.4H633.9V35.6" stroke="#3c3c3c" stroke-width="0.75" fill="none"/>
<text x="620.75" y="24.26" font-size="5.1" text-anchor="middle" fill="#222" font-style="italic" stroke="#222" stroke-width="0.15">####</text>
<text transform="translate(194.8 209.4) scale(1.07 1)" font-size="23.8" font-weight="bold">e</text>
<line x1="230.1" y1="336.19" x2="355.8" y2="336.19" stroke="#f4402f" stroke-width="1.1" stroke-dasharray="3.2 1.15"/>
<rect x="240.5" y="336.4" width="17.6" height="2.3" fill="#fff"/>
<line x1="240.5" y1="335.72" x2="240.5" y2="338.7" stroke="#000" stroke-width="1.35"/>
<line x1="258.1" y1="335.72" x2="258.1" y2="338.7" stroke="#000" stroke-width="1.35"/>
<line x1="240.5" y1="336.4" x2="258.1" y2="336.4" stroke="#000" stroke-width="1.35"/>
<rect x="269.6" y="286.2" width="17.6" height="52.5" fill="#000"/>
<line x1="269.6" y1="285.52" x2="269.6" y2="338.7" stroke="#000" stroke-width="1.35"/>
<line x1="287.2" y1="285.52" x2="287.2" y2="338.7" stroke="#000" stroke-width="1.35"/>
<line x1="269.6" y1="286.2" x2="287.2" y2="286.2" stroke="#000" stroke-width="1.35"/>
<rect x="298.7" y="336.6" width="17.6" height="2.1" fill="#fff"/>
<line x1="298.7" y1="335.93" x2="298.7" y2="338.7" stroke="#000" stroke-width="1.35"/>
<line x1="316.3" y1="335.93" x2="316.3" y2="338.7" stroke="#000" stroke-width="1.35"/>
<line x1="298.7" y1="336.6" x2="316.3" y2="336.6" stroke="#000" stroke-width="1.35"/>
<rect x="328" y="328.5" width="17.6" height="10.2" fill="#e8e8e8"/>
<line x1="328" y1="327.82" x2="328" y2="338.7" stroke="#000" stroke-width="1.35"/>
<line x1="345.6" y1="327.82" x2="345.6" y2="338.7" stroke="#000" stroke-width="1.35"/>
<line x1="328" y1="328.5" x2="345.6" y2="328.5" stroke="#000" stroke-width="1.35"/>
<circle cx="240.8" cy="336.9" r="1.5" fill="#fff" stroke="#000" stroke-width="0.95"/>
<circle cx="245.1" cy="335.6" r="1.5" fill="#fff" stroke="#000" stroke-width="0.95"/>
<circle cx="249.1" cy="336.3" r="1.5" fill="#fff" stroke="#000" stroke-width="0.95"/>
<circle cx="253.4" cy="335.9" r="1.5" fill="#fff" stroke="#000" stroke-width="0.95"/>
<circle cx="257.7" cy="337.2" r="1.5" fill="#fff" stroke="#000" stroke-width="0.95"/>
<line x1="278.4" y1="277.5" x2="278.4" y2="286.2" stroke="#3a3a3a" stroke-width="0.65"/>
<line x1="273.8" y1="277.5" x2="283" y2="277.5" stroke="#3a3a3a" stroke-width="0.65"/>
<circle cx="278.3" cy="261.8" r="1.5" fill="#fff" stroke="#000" stroke-width="0.95"/>
<circle cx="278.3" cy="273.8" r="1.5" fill="#fff" stroke="#000" stroke-width="0.95"/>
<circle cx="278.3" cy="288.4" r="1.08" fill="#fff"/>
<circle cx="278.3" cy="299.5" r="1.08" fill="#fff"/>
<circle cx="278.3" cy="306.5" r="1.08" fill="#fff"/>
<circle cx="299.1" cy="337.2" r="1.5" fill="#fff" stroke="#000" stroke-width="0.95"/>
<circle cx="303.4" cy="336.2" r="1.5" fill="#fff" stroke="#000" stroke-width="0.95"/>
<circle cx="307.5" cy="337" r="1.5" fill="#fff" stroke="#000" stroke-width="0.95"/>
<circle cx="311.8" cy="336.7" r="1.5" fill="#fff" stroke="#000" stroke-width="0.95"/>
<circle cx="315.7" cy="337.2" r="1.5" fill="#fff" stroke="#000" stroke-width="0.95"/>
<line x1="336.8" y1="322.9" x2="336.8" y2="333.1" stroke="#3a3a3a" stroke-width="0.65"/>
<line x1="332.2" y1="322.9" x2="341.4" y2="322.9" stroke="#3a3a3a" stroke-width="0.65"/>
<line x1="332.2" y1="333.1" x2="341.4" y2="333.1" stroke="#3a3a3a" stroke-width="0.65"/>
<circle cx="333.6" cy="314.2" r="1.5" fill="#fff" stroke="#000" stroke-width="0.95"/>
<circle cx="339.8" cy="315.8" r="1.5" fill="#fff" stroke="#000" stroke-width="0.95"/>
<circle cx="330.8" cy="337.2" r="1.5" fill="#fff" stroke="#000" stroke-width="0.95"/>
<circle cx="336.8" cy="335.9" r="1.5" fill="#fff" stroke="#000" stroke-width="0.95"/>
<circle cx="343" cy="337" r="1.5" fill="#fff" stroke="#000" stroke-width="0.95"/>
<line x1="229.6" y1="237.57" x2="229.6" y2="339.32" stroke="#222" stroke-width="1"/>
<line x1="225.4" y1="338.7" x2="229.6" y2="338.7" stroke="#222" stroke-width="1"/>
<text x="223.8" y="340.65" font-size="5.5" text-anchor="end" stroke="#000" stroke-width="0.13">0</text>
<line x1="225.4" y1="313.57" x2="229.6" y2="313.57" stroke="#222" stroke-width="1"/>
<text x="223.8" y="315.53" font-size="5.5" text-anchor="end" stroke="#000" stroke-width="0.13">10</text>
<line x1="225.4" y1="288.45" x2="229.6" y2="288.45" stroke="#222" stroke-width="1"/>
<text x="223.8" y="290.4" font-size="5.5" text-anchor="end" stroke="#000" stroke-width="0.13">20</text>
<line x1="225.4" y1="263.32" x2="229.6" y2="263.32" stroke="#222" stroke-width="1"/>
<text x="223.8" y="265.28" font-size="5.5" text-anchor="end" stroke="#000" stroke-width="0.13">30</text>
<line x1="225.4" y1="238.2" x2="229.6" y2="238.2" stroke="#222" stroke-width="1"/>
<text x="223.8" y="240.15" font-size="5.5" text-anchor="end" stroke="#000" stroke-width="0.13">40</text>
<line x1="228.97" y1="338.7" x2="355.8" y2="338.7" stroke="#000" stroke-width="1.25"/>
<line x1="249.3" y1="338.7" x2="249.3" y2="342.7" stroke="#000" stroke-width="1"/>
<line x1="278.4" y1="338.7" x2="278.4" y2="342.7" stroke="#000" stroke-width="1"/>
<line x1="307.5" y1="338.7" x2="307.5" y2="342.7" stroke="#000" stroke-width="1"/>
<line x1="336.8" y1="338.7" x2="336.8" y2="342.7" stroke="#000" stroke-width="1"/>
<text x="249.3" y="325.51" font-size="6.7" text-anchor="middle" stroke="#000" stroke-width="0.18">ns</text>
<line x1="245.95" y1="329.9" x2="252.65" y2="329.9" stroke="#8a8a8a" stroke-width="0.8"/>
<text x="278.4" y="254.99" font-size="12" text-anchor="middle" font-weight="bold" stroke="#000" stroke-width="0.3">**</text>
<line x1="273.53" y1="255.3" x2="283.27" y2="255.3" stroke="#8a8a8a" stroke-width="0.8"/>
<text x="307.5" y="329.69" font-size="12" text-anchor="middle" font-weight="bold" stroke="#000" stroke-width="0.3">*</text>
<line x1="304.97" y1="330.4" x2="310.03" y2="330.4" stroke="#8a8a8a" stroke-width="0.8"/>
<text x="336.8" y="304.01" font-size="6.7" text-anchor="middle" stroke="#000" stroke-width="0.18">ns</text>
<line x1="333.45" y1="308.5" x2="340.15" y2="308.5" stroke="#8a8a8a" stroke-width="0.8"/>
<text x="252.1" y="350" font-size="9.1" text-anchor="end" transform="rotate(-45 252.1 350)">Sus (C2)</text>
<text x="281.2" y="350" font-size="9.1" text-anchor="end" transform="rotate(-45 281.2 350)">Resis (C3)</text>
<text x="310.3" y="350" font-size="9.1" text-anchor="end" transform="rotate(-45 310.3 350)">Pop. #1</text>
<text x="339.6" y="350" font-size="9.1" text-anchor="end" transform="rotate(-45 339.6 350)">Pop. #2</text>
<text x="235.6" y="246.9" font-size="10.9" fill="#1a2cff" font-style="italic" stroke="#1a2cff" stroke-width="0.22">twdlG</text>
<text x="212.5" y="289.65" font-size="9.42" text-anchor="middle" transform="rotate(-90 212.5 289.65)">Expression relative to Sus</text>
<path d="M278.2 210.4V201.3H336.6V223.9" stroke="#3c3c3c" stroke-width="0.75" fill="none"/>
<text x="307.75" y="198.26" font-size="5.4" text-anchor="middle" fill="#222" font-style="italic" stroke="#222" stroke-width="0.15">####</text>
<path d="M278.2 223.9V214.8H307.4V223.9" stroke="#3c3c3c" stroke-width="0.75" fill="none"/>
<text x="293.75" y="211.36" font-size="5.4" text-anchor="middle" fill="#222" font-style="italic" stroke="#222" stroke-width="0.15">####</text>
<text transform="translate(360.6 209.1) scale(1.28 1)" font-size="23.8" font-weight="bold">f</text>
<line x1="392.2" y1="338.48" x2="516.8" y2="338.48" stroke="#f4402f" stroke-width="1.1" stroke-dasharray="3.2 1.15"/>
<rect x="402.6" y="338.5" width="17.4" height="1.6" fill="#fff"/>
<line x1="402.6" y1="337.82" x2="402.6" y2="340.1" stroke="#000" stroke-width="1.35"/>
<line x1="420" y1="337.82" x2="420" y2="340.1" stroke="#000" stroke-width="1.35"/>
<line x1="402.6" y1="338.5" x2="420" y2="338.5" stroke="#000" stroke-width="1.35"/>
<rect x="431" y="327.1" width="17.4" height="13" fill="#000"/>
<line x1="431" y1="327.1" x2="431" y2="340.1" stroke="#000" stroke-width="1.35"/>
<line x1="448.4" y1="327.1" x2="448.4" y2="340.1" stroke="#000" stroke-width="1.35"/>
<rect x="431" y="278.4" width="17.4" height="39.8" fill="#000"/>
<line x1="431" y1="277.72" x2="431" y2="318.2" stroke="#000" stroke-width="1.35"/>
<line x1="448.4" y1="277.72" x2="448.4" y2="318.2" stroke="#000" stroke-width="1.35"/>
<line x1="431" y1="278.4" x2="448.4" y2="278.4" stroke="#000" stroke-width="1.35"/>
<rect x="459.6" y="334.5" width="17.4" height="5.6" fill="#939393"/>
<line x1="459.6" y1="333.82" x2="459.6" y2="340.1" stroke="#000" stroke-width="1.35"/>
<line x1="477" y1="333.82" x2="477" y2="340.1" stroke="#000" stroke-width="1.35"/>
<line x1="459.6" y1="334.5" x2="477" y2="334.5" stroke="#000" stroke-width="1.35"/>
<rect x="488" y="338.5" width="17.4" height="1.6" fill="#fff"/>
<line x1="488" y1="337.82" x2="488" y2="340.1" stroke="#000" stroke-width="1.35"/>
<line x1="505.4" y1="337.82" x2="505.4" y2="340.1" stroke="#000" stroke-width="1.35"/>
<line x1="488" y1="338.5" x2="505.4" y2="338.5" stroke="#000" stroke-width="1.35"/>
<circle cx="402.8" cy="338.6" r="1.5" fill="#fff" stroke="#000" stroke-width="0.95"/>
<circle cx="407.1" cy="337.8" r="1.5" fill="#fff" stroke="#000" stroke-width="0.95"/>
<circle cx="411.5" cy="338.3" r="1.5" fill="#fff" stroke="#000" stroke-width="0.95"/>
<circle cx="415.8" cy="338.1" r="1.5" fill="#fff" stroke="#000" stroke-width="0.95"/>
<circle cx="419.8" cy="338.6" r="1.5" fill="#fff" stroke="#000" stroke-width="0.95"/>
<line x1="439.7" y1="263.6" x2="439.7" y2="278.4" stroke="#3a3a3a" stroke-width="0.65"/>
<line x1="435.1" y1="263.6" x2="444.3" y2="263.6" stroke="#3a3a3a" stroke-width="0.65"/>
<circle cx="439.5" cy="244.8" r="1.5" fill="#fff" stroke="#000" stroke-width="0.95"/>
<circle cx="436.5" cy="259.6" r="1.5" fill="#fff" stroke="#000" stroke-width="0.95"/>
<circle cx="442.6" cy="259.6" r="1.5" fill="#fff" stroke="#000" stroke-width="0.95"/>
<circle cx="439.7" cy="312.1" r="1.08" fill="#fff"/>
<circle cx="439.7" cy="315.8" r="1.08" fill="#fff"/>
<line x1="468.3" y1="332.8" x2="468.3" y2="336.2" stroke="#3a3a3a" stroke-width="0.65"/>
<line x1="463.7" y1="332.8" x2="472.9" y2="332.8" stroke="#3a3a3a" stroke-width="0.65"/>
<line x1="463.7" y1="336.2" x2="472.9" y2="336.2" stroke="#3a3a3a" stroke-width="0.65"/>
<circle cx="468.2" cy="327.2" r="1.5" fill="#fff" stroke="#000" stroke-width="0.95"/>
<circle cx="465.2" cy="333.5" r="1.5" fill="#fff" stroke="#000" stroke-width="0.95"/>
<circle cx="471.5" cy="333" r="1.5" fill="#fff" stroke="#000" stroke-width="0.95"/>
<circle cx="465.2" cy="338.1" r="1.5" fill="#fff" stroke="#000" stroke-width="0.95"/>
<circle cx="471.5" cy="337.8" r="1.5" fill="#fff" stroke="#000" stroke-width="0.95"/>
<circle cx="488.7" cy="338.1" r="1.5" fill="#fff" stroke="#000" stroke-width="0.95"/>
<circle cx="493.4" cy="338.1" r="1.5" fill="#fff" stroke="#000" stroke-width="0.95"/>
<circle cx="497.2" cy="338.3" r="1.5" fill="#fff" stroke="#000" stroke-width="0.95"/>
<circle cx="501" cy="337.8" r="1.5" fill="#fff" stroke="#000" stroke-width="0.95"/>
<circle cx="505.2" cy="337.6" r="1.5" fill="#fff" stroke="#000" stroke-width="0.95"/>
<circle cx="496.8" cy="333" r="1.5" fill="#fff" stroke="#000" stroke-width="0.95"/>
<line x1="391.7" y1="326.48" x2="391.7" y2="340.73" stroke="#222" stroke-width="1"/>
<line x1="386.7" y1="340.1" x2="391.7" y2="340.1" stroke="#222" stroke-width="1"/>
<text x="385.3" y="341.95" font-size="5.2" text-anchor="end" stroke="#000" stroke-width="0.13">0</text>
<line x1="386.7" y1="333.6" x2="391.7" y2="333.6" stroke="#222" stroke-width="1"/>
<text x="385.3" y="335.45" font-size="5.2" text-anchor="end" stroke="#000" stroke-width="0.13">4</text>
<text x="385.3" y="328.95" font-size="5.2" text-anchor="end" stroke="#000" stroke-width="0.13">8</text>
<line x1="388.7" y1="327.1" x2="394.7" y2="327.1" stroke="#222" stroke-width="1"/>
<line x1="391.7" y1="242.28" x2="391.7" y2="318.82" stroke="#222" stroke-width="1"/>
<text x="385.3" y="320.05" font-size="5.2" text-anchor="end" stroke="#000" stroke-width="0.13">80</text>
<line x1="386.7" y1="293.1" x2="391.7" y2="293.1" stroke="#222" stroke-width="1"/>
<text x="384.5" y="294.95" font-size="5.2" text-anchor="end" stroke="#000" stroke-width="0.13">105</text>
<line x1="386.7" y1="268" x2="391.7" y2="268" stroke="#222" stroke-width="1"/>
<text x="384.5" y="269.85" font-size="5.2" text-anchor="end" stroke="#000" stroke-width="0.13">130</text>
<line x1="386.7" y1="242.9" x2="391.7" y2="242.9" stroke="#222" stroke-width="1"/>
<text x="384.5" y="244.75" font-size="5.2" text-anchor="end" stroke="#000" stroke-width="0.13">155</text>
<line x1="388.7" y1="318.2" x2="394.7" y2="318.2" stroke="#222" stroke-width="1"/>
<line x1="391.07" y1="340.1" x2="516.8" y2="340.1" stroke="#000" stroke-width="1.25"/>
<line x1="411.3" y1="340.1" x2="411.3" y2="344.1" stroke="#000" stroke-width="1"/>
<line x1="439.7" y1="340.1" x2="439.7" y2="344.1" stroke="#000" stroke-width="1"/>
<line x1="468.3" y1="340.1" x2="468.3" y2="344.1" stroke="#000" stroke-width="1"/>
<line x1="496.7" y1="340.1" x2="496.7" y2="344.1" stroke="#000" stroke-width="1"/>
<text x="411.3" y="328.01" font-size="6.7" text-anchor="middle" stroke="#000" stroke-width="0.18">ns</text>
<line x1="407.95" y1="332.3" x2="414.65" y2="332.3" stroke="#8a8a8a" stroke-width="0.8"/>
<text x="439.7" y="238.89" font-size="12" text-anchor="middle" font-weight="bold" stroke="#000" stroke-width="0.3">**</text>
<line x1="434.83" y1="238.7" x2="444.57" y2="238.7" stroke="#8a8a8a" stroke-width="0.8"/>
<text x="468.3" y="316.71" font-size="6.7" text-anchor="middle" stroke="#000" stroke-width="0.18">ns</text>
<line x1="464.95" y1="321.4" x2="471.65" y2="321.4" stroke="#8a8a8a" stroke-width="0.8"/>
<text x="496.7" y="322.61" font-size="6.7" text-anchor="middle" stroke="#000" stroke-width="0.18">ns</text>
<line x1="493.35" y1="326.9" x2="500.05" y2="326.9" stroke="#8a8a8a" stroke-width="0.8"/>
<text x="414.6" y="350.5" font-size="9.1" text-anchor="end" transform="rotate(-45 414.6 350.5)">Sus (C2)</text>
<text x="443" y="350.5" font-size="9.1" text-anchor="end" transform="rotate(-45 443 350.5)">Resis (C3)</text>
<text x="471.6" y="350.5" font-size="9.1" text-anchor="end" transform="rotate(-45 471.6 350.5)">Pop. #1</text>
<text x="500" y="350.5" font-size="9.1" text-anchor="end" transform="rotate(-45 500 350.5)">Pop. #2</text>
<text x="397.6" y="249" font-size="10.7" fill="#1a2cff" font-style="italic" stroke="#1a2cff" stroke-width="0.22">twdlF</text>
<text x="373" y="292.5" font-size="9.42" text-anchor="middle" transform="rotate(-90 373 292.5)">Expression relative to Sus</text>
<path d="M439.3 213.9V204.4H496.9V226.6" stroke="#3c3c3c" stroke-width="0.75" fill="none"/>
<text x="468.65" y="202.06" font-size="5.4" text-anchor="middle" fill="#222" font-style="italic" stroke="#222" stroke-width="0.15">####</text>
<path d="M439.3 226.6V218H468.3V226.6" stroke="#3c3c3c" stroke-width="0.75" fill="none"/>
<text x="454.15" y="214.96" font-size="5.4" text-anchor="middle" fill="#222" font-style="italic" stroke="#222" stroke-width="0.15">####</text>
<text transform="translate(521.7 209.4) scale(1.07 1)" font-size="23.8" font-weight="bold">g</text>
<line x1="561" y1="291.2" x2="685" y2="291.2" stroke="#f4402f" stroke-width="1.1" stroke-dasharray="3.2 1.15"/>
<rect x="568.15" y="292" width="11.3" height="48" fill="#fff"/>
<line x1="568.15" y1="291.32" x2="568.15" y2="340" stroke="#000" stroke-width="1.35"/>
<line x1="579.45" y1="291.32" x2="579.45" y2="340" stroke="#000" stroke-width="1.35"/>
<line x1="568.15" y1="292" x2="579.45" y2="292" stroke="#000" stroke-width="1.35"/>
<rect x="587.95" y="291.6" width="11.3" height="48.4" fill="#fff"/>
<line x1="587.95" y1="290.93" x2="587.95" y2="340" stroke="#000" stroke-width="1.35"/>
<line x1="599.25" y1="290.93" x2="599.25" y2="340" stroke="#000" stroke-width="1.35"/>
<line x1="587.95" y1="291.6" x2="599.25" y2="291.6" stroke="#000" stroke-width="1.35"/>
<rect x="607.15" y="288.4" width="11.3" height="51.6" fill="#000"/>
<line x1="607.15" y1="287.72" x2="607.15" y2="340" stroke="#000" stroke-width="1.35"/>
<line x1="618.45" y1="287.72" x2="618.45" y2="340" stroke="#000" stroke-width="1.35"/>
<line x1="607.15" y1="288.4" x2="618.45" y2="288.4" stroke="#000" stroke-width="1.35"/>
<rect x="626.75" y="281.6" width="11.3" height="58.4" fill="#000"/>
<line x1="626.75" y1="280.93" x2="626.75" y2="340" stroke="#000" stroke-width="1.35"/>
<line x1="638.05" y1="280.93" x2="638.05" y2="340" stroke="#000" stroke-width="1.35"/>
<line x1="626.75" y1="281.6" x2="638.05" y2="281.6" stroke="#000" stroke-width="1.35"/>
<rect x="646.15" y="282.9" width="11.3" height="57.1" fill="#939393"/>
<line x1="646.15" y1="282.22" x2="646.15" y2="340" stroke="#000" stroke-width="1.35"/>
<line x1="657.45" y1="282.22" x2="657.45" y2="340" stroke="#000" stroke-width="1.35"/>
<line x1="646.15" y1="282.9" x2="657.45" y2="282.9" stroke="#000" stroke-width="1.35"/>
<rect x="665.85" y="281.6" width="11.3" height="58.4" fill="#e8e8e8"/>
<line x1="665.85" y1="280.93" x2="665.85" y2="340" stroke="#000" stroke-width="1.35"/>
<line x1="677.15" y1="280.93" x2="677.15" y2="340" stroke="#000" stroke-width="1.35"/>
<line x1="665.85" y1="281.6" x2="677.15" y2="281.6" stroke="#000" stroke-width="1.35"/>
<line x1="573.8" y1="288.6" x2="573.8" y2="295.7" stroke="#3a3a3a" stroke-width="0.65"/>
<line x1="570.6" y1="288.6" x2="577" y2="288.6" stroke="#3a3a3a" stroke-width="0.65"/>
<line x1="570.6" y1="295.7" x2="577" y2="295.7" stroke="#3a3a3a" stroke-width="0.65"/>
<circle cx="573.7" cy="281.1" r="1.5" fill="#fff" stroke="#000" stroke-width="0.95"/>
<circle cx="571.1" cy="288.7" r="1.5" fill="#fff" stroke="#000" stroke-width="0.95"/>
<circle cx="576.6" cy="288.7" r="1.5" fill="#fff" stroke="#000" stroke-width="0.95"/>
<circle cx="573.7" cy="298.3" r="1.5" fill="#fff" stroke="#000" stroke-width="0.95"/>
<circle cx="573.7" cy="301.8" r="1.5" fill="#fff" stroke="#000" stroke-width="0.95"/>
<line x1="593.6" y1="288.4" x2="593.6" y2="294.8" stroke="#3a3a3a" stroke-width="0.65"/>
<line x1="590.4" y1="288.4" x2="596.8" y2="288.4" stroke="#3a3a3a" stroke-width="0.65"/>
<line x1="590.4" y1="294.8" x2="596.8" y2="294.8" stroke="#3a3a3a" stroke-width="0.65"/>
<circle cx="590.2" cy="285.1" r="1.5" fill="#fff" stroke="#000" stroke-width="0.95"/>
<circle cx="596" cy="285.9" r="1.5" fill="#fff" stroke="#000" stroke-width="0.95"/>
<circle cx="590.2" cy="293" r="1.5" fill="#fff" stroke="#000" stroke-width="0.95"/>
<circle cx="596" cy="293" r="1.5" fill="#fff" stroke="#000" stroke-width="0.95"/>
<circle cx="593.1" cy="300" r="1.5" fill="#fff" stroke="#000" stroke-width="0.95"/>
<line x1="612.8" y1="284.5" x2="612.8" y2="288.4" stroke="#3a3a3a" stroke-width="0.65"/>
<line x1="609.6" y1="284.5" x2="616" y2="284.5" stroke="#3a3a3a" stroke-width="0.65"/>
<circle cx="612.5" cy="278.2" r="1.5" fill="#fff" stroke="#000" stroke-width="0.95"/>
<circle cx="615.7" cy="282.2" r="1.5" fill="#fff" stroke="#000" stroke-width="0.95"/>
<circle cx="609.8" cy="284.3" r="1.5" fill="#fff" stroke="#000" stroke-width="0.95"/>
<circle cx="612.7" cy="294.2" r="1.08" fill="#fff"/>
<circle cx="612.7" cy="301.5" r="1.08" fill="#fff"/>
<line x1="632.4" y1="275.5" x2="632.4" y2="281.6" stroke="#3a3a3a" stroke-width="0.65"/>
<line x1="629.2" y1="275.5" x2="635.6" y2="275.5" stroke="#3a3a3a" stroke-width="0.65"/>
<circle cx="629.2" cy="269.2" r="1.5" fill="#fff" stroke="#000" stroke-width="0.95"/>
<circle cx="634.9" cy="271" r="1.5" fill="#fff" stroke="#000" stroke-width="0.95"/>
<circle cx="632.2" cy="280.3" r="1.5" fill="#fff" stroke="#000" stroke-width="0.95"/>
<circle cx="632.2" cy="284.7" r="1.08" fill="#fff"/>
<circle cx="632.2" cy="301.9" r="1.08" fill="#fff"/>
<line x1="651.8" y1="276.4" x2="651.8" y2="288.4" stroke="#3a3a3a" stroke-width="0.65"/>
<line x1="648.6" y1="276.4" x2="655" y2="276.4" stroke="#3a3a3a" stroke-width="0.65"/>
<line x1="648.6" y1="288.4" x2="655" y2="288.4" stroke="#3a3a3a" stroke-width="0.65"/>
<circle cx="651.6" cy="263.6" r="1.5" fill="#fff" stroke="#000" stroke-width="0.95"/>
<circle cx="648.8" cy="279.3" r="1.5" fill="#fff" stroke="#000" stroke-width="0.95"/>
<circle cx="654.3" cy="278.4" r="1.5" fill="#fff" stroke="#000" stroke-width="0.95"/>
<circle cx="651.6" cy="290.8" r="1.5" fill="#fff" stroke="#000" stroke-width="0.95"/>
<circle cx="651.6" cy="298.7" r="1.5" fill="#fff" stroke="#000" stroke-width="0.95"/>
<line x1="671.5" y1="274.2" x2="671.5" y2="287.7" stroke="#3a3a3a" stroke-width="0.65"/>
<line x1="668.3" y1="274.2" x2="674.7" y2="274.2" stroke="#3a3a3a" stroke-width="0.65"/>
<line x1="668.3" y1="287.7" x2="674.7" y2="287.7" stroke="#3a3a3a" stroke-width="0.65"/>
<circle cx="671.3" cy="264" r="1.5" fill="#fff" stroke="#000" stroke-width="0.95"/>
<circle cx="671.3" cy="269.9" r="1.5" fill="#fff" stroke="#000" stroke-width="0.95"/>
<circle cx="671.3" cy="277.9" r="1.5" fill="#fff" stroke="#000" stroke-width="0.95"/>
<circle cx="671.3" cy="293.9" r="1.5" fill="#fff" stroke="#000" stroke-width="0.95"/>
<circle cx="671.3" cy="299.7" r="1.5" fill="#fff" stroke="#000" stroke-width="0.95"/>
<line x1="560.5" y1="241.78" x2="560.5" y2="340.62" stroke="#222" stroke-width="1"/>
<line x1="556.3" y1="340" x2="560.5" y2="340" stroke="#222" stroke-width="1"/>
<text x="554.9" y="342.27" font-size="6.4" text-anchor="end" stroke="#000" stroke-width="0.13">0.0</text>
<line x1="556.3" y1="315.6" x2="560.5" y2="315.6" stroke="#222" stroke-width="1"/>
<text x="554.9" y="317.87" font-size="6.4" text-anchor="end" stroke="#000" stroke-width="0.13">0.5</text>
<line x1="556.3" y1="291.2" x2="560.5" y2="291.2" stroke="#222" stroke-width="1"/>
<text x="554.9" y="293.47" font-size="6.4" text-anchor="end" stroke="#000" stroke-width="0.13">1.0</text>
<line x1="556.3" y1="266.8" x2="560.5" y2="266.8" stroke="#222" stroke-width="1"/>
<text x="554.9" y="269.07" font-size="6.4" text-anchor="end" stroke="#000" stroke-width="0.13">1.5</text>
<line x1="556.3" y1="242.4" x2="560.5" y2="242.4" stroke="#222" stroke-width="1"/>
<text x="554.9" y="244.67" font-size="6.4" text-anchor="end" stroke="#000" stroke-width="0.13">2.0</text>
<line x1="559.88" y1="340" x2="685" y2="340" stroke="#000" stroke-width="1.25"/>
<line x1="573.8" y1="340" x2="573.8" y2="344.5" stroke="#000" stroke-width="1"/>
<line x1="593.6" y1="340" x2="593.6" y2="344.5" stroke="#000" stroke-width="1"/>
<line x1="612.8" y1="340" x2="612.8" y2="344.5" stroke="#000" stroke-width="1"/>
<line x1="632.4" y1="340" x2="632.4" y2="344.5" stroke="#000" stroke-width="1"/>
<line x1="651.8" y1="340" x2="651.8" y2="344.5" stroke="#000" stroke-width="1"/>
<line x1="671.5" y1="340" x2="671.5" y2="344.5" stroke="#000" stroke-width="1"/>
<text x="573.8" y="271.31" font-size="6.7" text-anchor="middle" stroke="#000" stroke-width="0.18">ns</text>
<line x1="570.45" y1="275.3" x2="577.15" y2="275.3" stroke="#8a8a8a" stroke-width="0.8"/>
<text x="593.6" y="275.01" font-size="6.7" text-anchor="middle" stroke="#000" stroke-width="0.18">ns</text>
<line x1="590.25" y1="279" x2="596.95" y2="279" stroke="#8a8a8a" stroke-width="0.8"/>
<text x="612.8" y="268.71" font-size="6.7" text-anchor="middle" stroke="#000" stroke-width="0.18">ns</text>
<line x1="609.45" y1="273.2" x2="616.15" y2="273.2" stroke="#8a8a8a" stroke-width="0.8"/>
<text x="632.4" y="259.31" font-size="6.7" text-anchor="middle" stroke="#000" stroke-width="0.18">ns</text>
<line x1="629.05" y1="263.6" x2="635.75" y2="263.6" stroke="#8a8a8a" stroke-width="0.8"/>
<text x="651.8" y="253.81" font-size="6.7" text-anchor="middle" stroke="#000" stroke-width="0.18">ns</text>
<line x1="648.45" y1="257.5" x2="655.15" y2="257.5" stroke="#8a8a8a" stroke-width="0.8"/>
<text x="671.5" y="254.41" font-size="6.7" text-anchor="middle" stroke="#000" stroke-width="0.18">ns</text>
<line x1="668.15" y1="258.5" x2="674.85" y2="258.5" stroke="#8a8a8a" stroke-width="0.8"/>
<text x="576.6" y="351.3" font-size="8.7" text-anchor="end" transform="rotate(-45 576.6 351.3)">Sus (S7)</text>
<text x="596.4" y="351.3" font-size="8.7" text-anchor="end" transform="rotate(-45 596.4 351.3)">Sus (C2)</text>
<text x="615.6" y="351.3" font-size="8.7" text-anchor="end" transform="rotate(-45 615.6 351.3)">Resis (S3)</text>
<text x="635.2" y="351.3" font-size="8.7" text-anchor="end" transform="rotate(-45 635.2 351.3)">Resis (C3)</text>
<text x="654.6" y="351.3" font-size="8.7" text-anchor="end" transform="rotate(-45 654.6 351.3)">Pop. #1</text>
<text x="674.3" y="351.3" font-size="8.7" text-anchor="end" transform="rotate(-45 674.3 351.3)">Pop. #2</text>
<text x="566.3" y="251" font-size="11.3" fill="#1a2cff" font-style="italic" stroke="#1a2cff" stroke-width="0.22">ecR</text>
<text x="541.1" y="291.65" font-size="9.42" text-anchor="middle" transform="rotate(-90 541.1 291.65)">Expression relative to Sus</text>
</svg>
</body></html>
